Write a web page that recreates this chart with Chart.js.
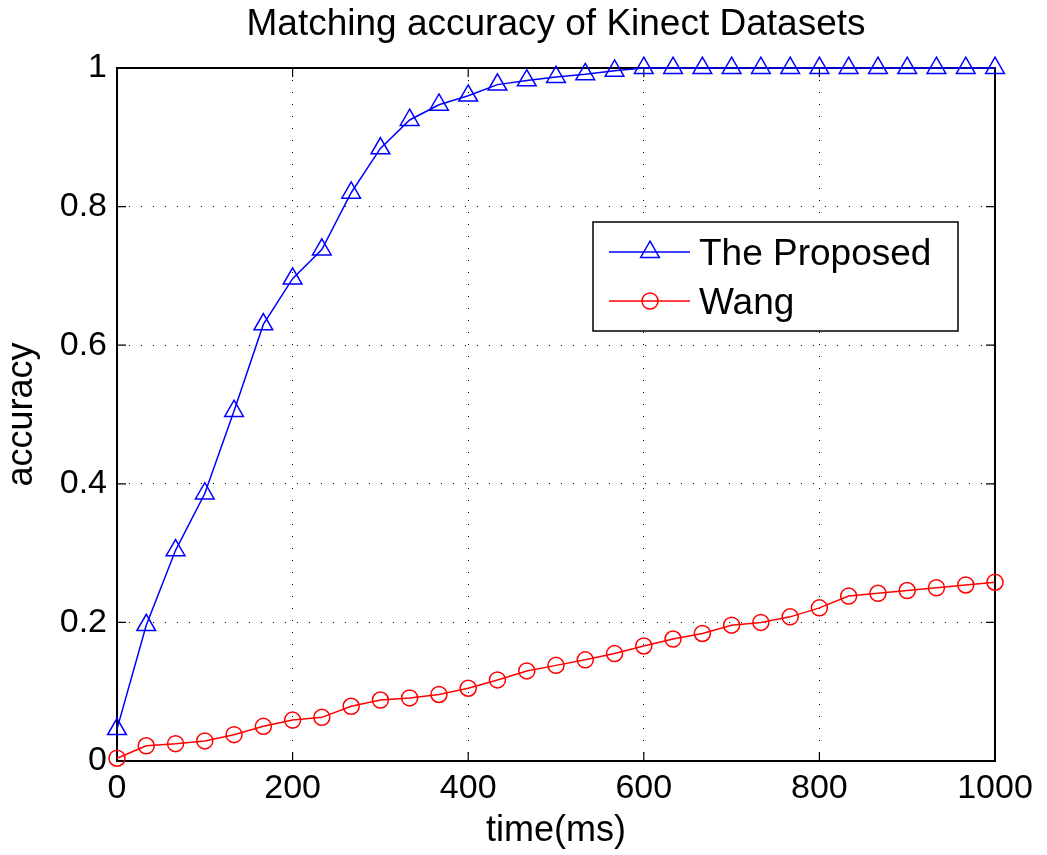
<!DOCTYPE html>
<html>
<head>
<meta charset="utf-8">
<script src="https://cdn.jsdelivr.net/npm/chart.js@4/dist/chart.umd.min.js"></script>
<style>
  html, body { margin: 0; padding: 0; background: #fff; }
  #wrap { width: 1047px; height: 855px; }
</style>
</head>
<body>
<div id="wrap"><canvas id="accChart" width="1047" height="855"></canvas></div>
<script>
// values
const times = [0, 33.3, 66.7, 100, 133.3, 166.7, 200, 233.3, 266.7, 300, 333.3, 366.7, 400,
  433.3, 466.7, 500, 533.3, 566.7, 600, 633.3, 666.7, 700, 733.3, 766.7, 800, 833.3, 866.7,
  900, 933.3, 966.7, 1000];
const proposed = [0.046, 0.196, 0.304, 0.386, 0.505, 0.630, 0.696, 0.738, 0.820, 0.884, 0.925,
  0.947, 0.960, 0.976, 0.982, 0.987, 0.991, 0.996, 1, 1, 1, 1, 1, 1, 1, 1, 1, 1, 1, 1, 1];
const wang = [0.004, 0.022, 0.025, 0.029, 0.038, 0.050, 0.059, 0.063, 0.079, 0.088, 0.091,
  0.096, 0.105, 0.117, 0.130, 0.138, 0.146, 0.155, 0.166, 0.176, 0.184, 0.196, 0.200, 0.208,
  0.221, 0.238, 0.242, 0.246, 0.250, 0.254, 0.258];
const seriesNames = ['The Proposed', 'Wang'];
const xTickLabels = ['0', '200', '400', '600', '800', '1000'];
const yTickLabels = ['0', '0.2', '0.4', '0.6', '0.8', '1'];
const chartTitle = 'Matching accuracy of Kinect Datasets';

const FONT = '"Liberation Sans", Arial, Helvetica, sans-serif';

function toPoints(vals) {
  return vals.map((v, i) => ({ x: times[i], y: v }));
}

// draws the MATLAB-style frame, inward ticks, title and the boxed legend
const matlabFrame = {
  id: 'matlabFrame',
  beforeDatasetsDraw(chart) {
    const { ctx, chartArea: a, scales } = chart;
    ctx.save();
    ctx.strokeStyle = '#000';
    ctx.lineWidth = 2;
    ctx.strokeRect(a.left, a.top, a.right - a.left, a.bottom - a.top);
    ctx.lineWidth = 1.2;
    const tl = 9;
    ctx.beginPath();
    scales.x.ticks.forEach((t) => {
      const px = scales.x.getPixelForValue(t.value);
      ctx.moveTo(px, a.bottom); ctx.lineTo(px, a.bottom - tl);
      ctx.moveTo(px, a.top); ctx.lineTo(px, a.top + tl);
    });
    scales.y.ticks.forEach((t) => {
      const py = scales.y.getPixelForValue(t.value);
      ctx.moveTo(a.left, py); ctx.lineTo(a.left + tl, py);
      ctx.moveTo(a.right, py); ctx.lineTo(a.right - tl, py);
    });
    ctx.stroke();
    ctx.restore();
  },
  afterDraw(chart) {
    const { ctx, chartArea: a } = chart;
    ctx.save();
    // title
    ctx.fillStyle = '#000';
    ctx.font = '37px ' + FONT;
    ctx.textAlign = 'center';
    ctx.textBaseline = 'middle';
    ctx.fillText(chartTitle, (a.left + a.right) / 2, 25);

    // legend box
    const bx = 593, by = 222, bw = 365, bh = 109;
    ctx.fillStyle = '#fff';
    ctx.fillRect(bx, by, bw, bh);
    ctx.strokeStyle = '#000';
    ctx.lineWidth = 1.5;
    ctx.strokeRect(bx, by, bw, bh);

    const rows = [252, 301];
    chart.data.datasets.forEach((ds, i) => {
      const y = rows[i];
      ctx.strokeStyle = ds.borderColor;
      ctx.lineWidth = 1.5;
      ctx.beginPath();
      ctx.moveTo(609, y); ctx.lineTo(690, y);
      ctx.stroke();
      const mx = 650;
      ctx.beginPath();
      if (ds.pointStyle === 'triangle') {
        const r = ds.pointRadius;
        ctx.moveTo(mx, y - r);
        ctx.lineTo(mx + r * Math.sin(Math.PI / 3), y + r / 2);
        ctx.lineTo(mx - r * Math.sin(Math.PI / 3), y + r / 2);
        ctx.closePath();
      } else {
        ctx.arc(mx, y, ds.pointRadius, 0, Math.PI * 2);
      }
      ctx.stroke();
      ctx.fillStyle = '#000';
      ctx.font = '37px ' + FONT;
      ctx.textAlign = 'left';
      ctx.textBaseline = 'alphabetic';
      ctx.fillText(ds.label, 699, y + 13);
    });
    ctx.restore();
  }
};

const ctx = document.getElementById('accChart').getContext('2d');
new Chart(ctx, {
  type: 'line',
  data: {
    datasets: [
      {
        label: seriesNames[0],
        data: toPoints(proposed),
        borderColor: '#0000ff',
        borderWidth: 1.5,
        pointStyle: 'triangle',
        pointRadius: 10.8,
        pointBorderWidth: 1.5,
        pointBorderColor: '#0000ff',
        pointBackgroundColor: 'rgba(0,0,0,0)',
        tension: 0,
        clip: false,
      },
      {
        label: seriesNames[1],
        data: toPoints(wang),
        borderColor: '#ff0000',
        borderWidth: 1.5,
        pointStyle: 'circle',
        pointRadius: 8,
        pointBorderWidth: 1.5,
        pointBorderColor: '#ff0000',
        pointBackgroundColor: 'rgba(0,0,0,0)',
        tension: 0,
        clip: false,
      },
    ],
  },
  options: {
    responsive: false,
    animation: false,
    devicePixelRatio: 1,
    layout: { padding: { top: 68, right: 52, bottom: 0, left: 0 } },
    plugins: {
      legend: { display: false },
      title: { display: false },
      tooltip: { enabled: false },
    },
    scales: {
      x: {
        type: 'linear',
        min: 0,
        max: 1000,
        afterFit: (scale) => { scale.height = 94; },
        border: { display: false, dash: [1, 11] },
        grid: { color: '#000', lineWidth: 1, drawTicks: false },
        ticks: {
          stepSize: 200,
          padding: 7,
          color: '#000',
          font: { family: FONT, size: 34 },
          callback: (v, i) => xTickLabels[i],
        },
        title: {
          display: true,
          text: 'time(ms)',
          color: '#000',
          font: { family: FONT, size: 36 },
          padding: { top: 0, bottom: 2 },
        },
      },
      y: {
        min: 0,
        max: 1,
        afterFit: (scale) => { scale.width = 117; },
        border: { display: false, dash: [1, 11] },
        grid: { color: '#000', lineWidth: 1, drawTicks: false },
        ticks: {
          stepSize: 0.2,
          padding: 10,
          color: '#000',
          font: { family: FONT, size: 34 },
          callback: (v, i) => yTickLabels[i],
        },
        title: {
          display: true,
          text: 'accuracy',
          color: '#000',
          font: { family: FONT, size: 36 },
          padding: { top: 0, bottom: 0 },
        },
      },
    },
  },
  plugins: [matlabFrame],
});
</script>
</body>
</html>
